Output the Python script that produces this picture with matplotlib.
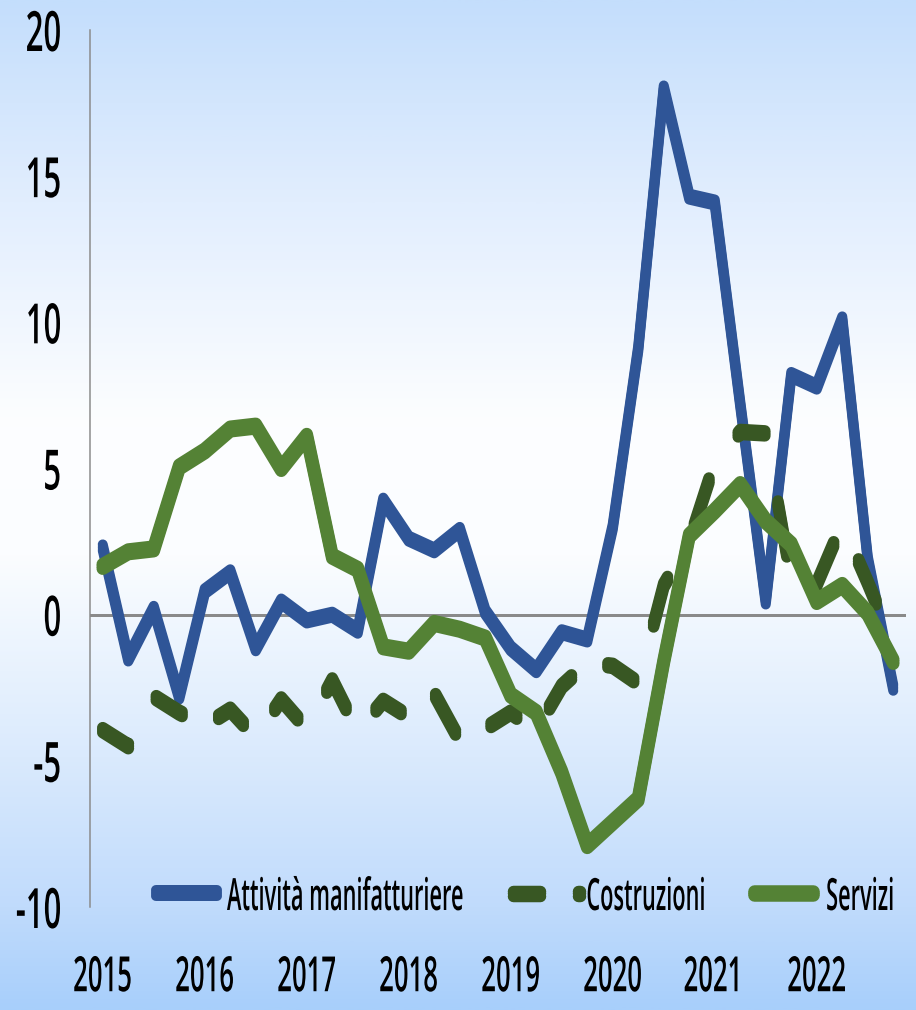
import numpy as np
import matplotlib
matplotlib.use("Agg")
import matplotlib.pyplot as plt
from matplotlib import patheffects
from matplotlib.colors import LinearSegmentedColormap
from matplotlib.lines import Line2D
from matplotlib.path import Path
from matplotlib.transforms import Affine2D

plt.rcParams['font.family'] = ['Open Sans', 'DejaVu Sans']
plt.rcParams['axes.unicode_minus'] = False

# quarterly values, 2015 Q1 - 2022 Q4
anni = ['2015', '2016', '2017', '2018', '2019', '2020', '2021', '2022']
manifattura = [2.3, -1.5, 0.2, -2.8, 0.8, 1.45, -1.15, 0.45,
               -0.2, 0.0, -0.55, 3.9, 2.6, 2.2, 2.9, 0.1,
               -1.15, -1.9, -0.6, -0.85, 3.0, 9.1, 18.0, 14.3,
               14.1, 7.2, 0.45, 8.2, 7.8, 10.1, 1.9, -2.5]
costruzioni = [-3.95, -4.5, -2.8, -3.35, -3.8, -3.25, -4.2, -2.9,
               -3.9, -2.25, -4.0, -2.95, -3.5, -2.7, -4.3, -3.9,
               -3.35, -3.95, -2.45, -1.65, -1.75, -2.35, 1.0, 2.5,
               5.2, 6.25, 6.2, 1.2, 1.05, 3.1, 1.1, -1.0]
servizi = [1.65, 2.15, 2.25, 5.05, 5.6, 6.35, 6.45, 5.0,
           6.1, 2.0, 1.55, -1.1, -1.25, -0.3, -0.5, -0.8,
           -2.75, -3.35, -5.4, -7.9, -7.1, -6.3, -1.6, 2.7,
           3.55, 4.45, 3.2, 2.4, 0.45, 1.0, 0.05, -1.6]
nomi = ['Attività manifatturiere', 'Costruzioni', 'Servizi']

BLU = '#2F5597'
VERDE_SCURO = '#385723'
VERDE = '#548235'
GRIGIO = '#8A8A8A'
PT = 72 / 100  # points per pixel
SX = 0.5       # horizontal squeeze of the whole drawing
TRATTEGGIO = (54, 76)  # dash on/off in unsqueezed pixels


class Squeeze(patheffects.AbstractPathEffect):
    """Narrow the glyphs horizontally around one edge of the text."""

    def __init__(self, sx=0.53, anchor='center'):
        super().__init__()
        self.sx = sx
        self.anchor = anchor

    def draw_path(self, renderer, gc, tpath, affine, rgbFace=None):
        box = tpath.get_extents(affine)
        if self.anchor == 'left':
            x0 = box.x0
        elif self.anchor == 'right':
            x0 = box.x1
        else:
            x0 = (box.x0 + box.x1) / 2
        squash = Affine2D().translate(-x0, 0).scale(self.sx, 1).translate(x0, 0)
        renderer.draw_path(gc, tpath, affine + squash, rgbFace)


class Brush(patheffects.AbstractPathEffect):
    """Flat, wide pen: stroke repeated with small vertical shifts, so that
    horizontal runs come out thicker than steep ones. Optional dashes are
    measured as if the x direction were not squeezed."""

    def __init__(self, spread, dash=None):
        super().__init__()
        self.spread = spread
        self.dash = dash

    def _dashed(self, path):
        pts = path.vertices
        seg = np.diff(pts, axis=0)
        cum = np.concatenate([[0], np.cumsum(np.hypot(seg[:, 0] / SX, seg[:, 1]))])
        on, off = self.dash
        verts, codes = [], []
        start = 0.0
        while start < cum[-1]:
            end = min(start + on, cum[-1])
            ds = [start] + [c for c in cum[1:-1] if start < c < end] + [end]
            xy = np.column_stack([np.interp(ds, cum, pts[:, 0]),
                                  np.interp(ds, cum, pts[:, 1])])
            verts.extend(xy)
            codes.extend([Path.MOVETO] + [Path.LINETO] * (len(xy) - 1))
            start += on + off
        return Path(np.array(verts), codes)

    def draw_path(self, renderer, gc, tpath, affine, rgbFace=None):
        path = affine.transform_path(tpath)
        if self.dash:
            path = self._dashed(path)
        for dy in (-self.spread, 0, self.spread):
            renderer.draw_path(gc, path, Affine2D().translate(0, dy), rgbFace)


fig = plt.figure(figsize=(9.16, 10.10), dpi=100)

# blue - white - blue vertical gradient behind everything
bg = fig.add_axes([0, 0, 1, 1], zorder=-10)
cmap = LinearSegmentedColormap.from_list('sfondo', [
    (0.0, '#C4DEFC'), (0.2, '#E2EEFE'), (0.42, '#FDFEFF'), (0.55, '#FBFDFF'),
    (0.75, '#DAEAFD'), (0.9, '#C0DBFC'), (1.0, '#A8CFFB')])
bg.imshow(np.linspace(0, 1, 512).reshape(-1, 1), cmap=cmap, aspect='auto',
          extent=[0, 1, 0, 1])
bg.set_axis_off()

ax = fig.add_axes([90 / 916, 1 - 907 / 1010, 816 / 916, 877 / 1010])
ax.set_facecolor('none')

stili = [
    dict(color=BLU, lw=10 * PT, path_effects=[Brush(3)]),
    dict(color=VERDE_SCURO, lw=11.5 * PT, path_effects=[Brush(2.5, TRATTEGGIO)]),
    dict(color=VERDE, lw=12.5 * PT, path_effects=[Brush(2.3)]),
]

x = np.arange(len(manifattura))
ax.axhline(0, color=GRIGIO, lw=3 * PT, zorder=1)
for k, (serie, stile) in enumerate(zip([manifattura, costruzioni, servizi], stili)):
    ax.plot(x, serie, solid_capstyle='round', solid_joinstyle='round',
            zorder=2 + k, **stile)

ax.set_xlim(-0.5, len(manifattura) - 0.5)
ax.set_ylim(-10, 20)
ax.set_yticks(range(-10, 21, 5))
ax.set_xticks(x[::4], anni)

for s in ['top', 'right', 'bottom']:
    ax.spines[s].set_visible(False)
ax.spines['left'].set_color(GRIGIO)
ax.spines['left'].set_linewidth(1.5 * PT)
ax.tick_params(axis='both', length=0)
ax.tick_params(axis='y', labelsize=40, pad=20)
ax.tick_params(axis='x', labelsize=35, pad=34)

for lab in ax.get_yticklabels():
    lab.set_fontweight('semibold')
    lab.set_path_effects([Squeeze(0.56, 'right')])
for lab in ax.get_xticklabels():
    lab.set_fontweight('semibold')
    lab.set_path_effects([Squeeze(0.53, 'center')])


# legend drawn along the bottom of the plot area
def fx(px):
    return (px - 90) / 816


def fy(py):
    return (907 - py) / 877


tratti = [(156, 217), (513, 580), (754, 813)]
testi = [227, 585, 825]
for nome, stile, (a, b), t in zip(nomi, stili, tratti, testi):
    ax.add_line(Line2D([fx(a), fx(b)], [fy(893), fy(893)],
                       transform=ax.transAxes, clip_on=False,
                       solid_capstyle='round', **stile))
    ax.text(fx(t), fy(910), nome, transform=ax.transAxes, fontsize=32,
            fontweight='semibold', ha='left', va='baseline',
            path_effects=[Squeeze(0.49, 'left')])

fig.savefig('out.png', dpi=100)
